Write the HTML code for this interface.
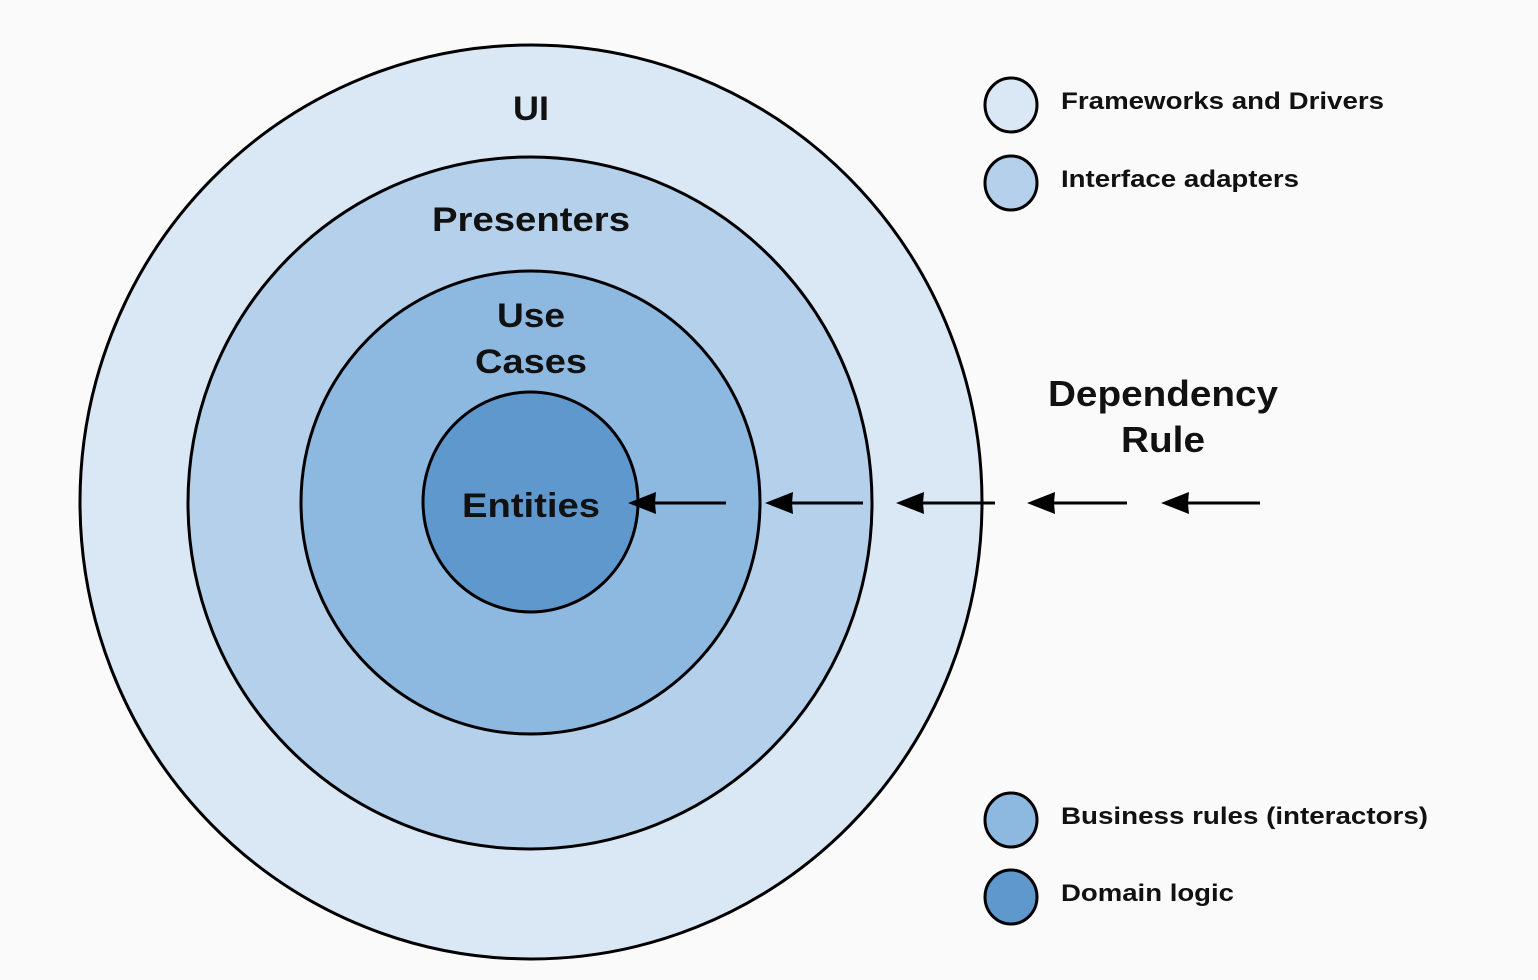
<!DOCTYPE html>
<html><head><style>
html,body{margin:0;padding:0;background:#fafafa;}
svg{display:block;}
text{font-family:"Liberation Sans",Arial,sans-serif;font-weight:bold;fill:#111;}
</style></head><body>
<svg width="1538" height="980" viewBox="0 0 1538 980">
<ellipse cx="531" cy="502" rx="451" ry="457" fill="#dae7f4" stroke="#000" stroke-width="3"/>
<ellipse cx="530" cy="503" rx="342" ry="346" fill="#b5d0eb" stroke="#000" stroke-width="3"/>
<ellipse cx="530.5" cy="502.5" rx="229.5" ry="231.5" fill="#8db8e0" stroke="#000" stroke-width="3"/>
<ellipse cx="530.5" cy="502" rx="107.5" ry="110" fill="#5f98cd" stroke="#000" stroke-width="3"/>
<text x="513" y="120" font-size="34" textLength="36" lengthAdjust="spacingAndGlyphs">UI</text>
<text x="432" y="231" font-size="34" textLength="198" lengthAdjust="spacingAndGlyphs">Presenters</text>
<text x="497" y="327" font-size="34" textLength="68" lengthAdjust="spacingAndGlyphs">Use</text>
<text x="475" y="373" font-size="34" textLength="112" lengthAdjust="spacingAndGlyphs">Cases</text>
<text x="462" y="517" font-size="34" textLength="138" lengthAdjust="spacingAndGlyphs">Entities</text>
<text x="1048" y="406" font-size="36" textLength="230" lengthAdjust="spacingAndGlyphs">Dependency</text>
<text x="1121" y="452" font-size="36" textLength="84" lengthAdjust="spacingAndGlyphs">Rule</text>
<g stroke="#000" stroke-width="3">
<line x1="726" y1="503" x2="650" y2="503"/>
<line x1="863" y1="503" x2="787" y2="503"/>
<line x1="995" y1="503" x2="918" y2="503"/>
<line x1="1127" y1="503" x2="1049" y2="503"/>
<line x1="1260" y1="503" x2="1183" y2="503"/>
</g>
<g fill="#000">
<path d="M628,503 L656,492 L655,503 L656,514 Z"/>
<path d="M765,503 L793,492 L792,503 L793,514 Z"/>
<path d="M896,503 L924,492 L923,503 L924,514 Z"/>
<path d="M1027,503 L1055,492 L1054,503 L1055,514 Z"/>
<path d="M1161,503 L1189,492 L1188,503 L1189,514 Z"/>
</g>
<g stroke="#000" stroke-width="3">
<ellipse cx="1011" cy="105" rx="26" ry="27" fill="#dae7f4"/>
<ellipse cx="1011" cy="183" rx="26" ry="27" fill="#b5d0eb"/>
<ellipse cx="1011" cy="820" rx="26" ry="27" fill="#8db8e0"/>
<ellipse cx="1011" cy="897" rx="26" ry="27" fill="#5f98cd"/>
</g>
<text x="1061" y="109" font-size="24" textLength="323" lengthAdjust="spacingAndGlyphs">Frameworks and Drivers</text>
<text x="1061" y="187" font-size="24" textLength="238" lengthAdjust="spacingAndGlyphs">Interface adapters</text>
<text x="1061" y="824" font-size="24" textLength="367" lengthAdjust="spacingAndGlyphs">Business rules (interactors)</text>
<text x="1061" y="901" font-size="24" textLength="173" lengthAdjust="spacingAndGlyphs">Domain logic</text>
</svg>
</body></html>
